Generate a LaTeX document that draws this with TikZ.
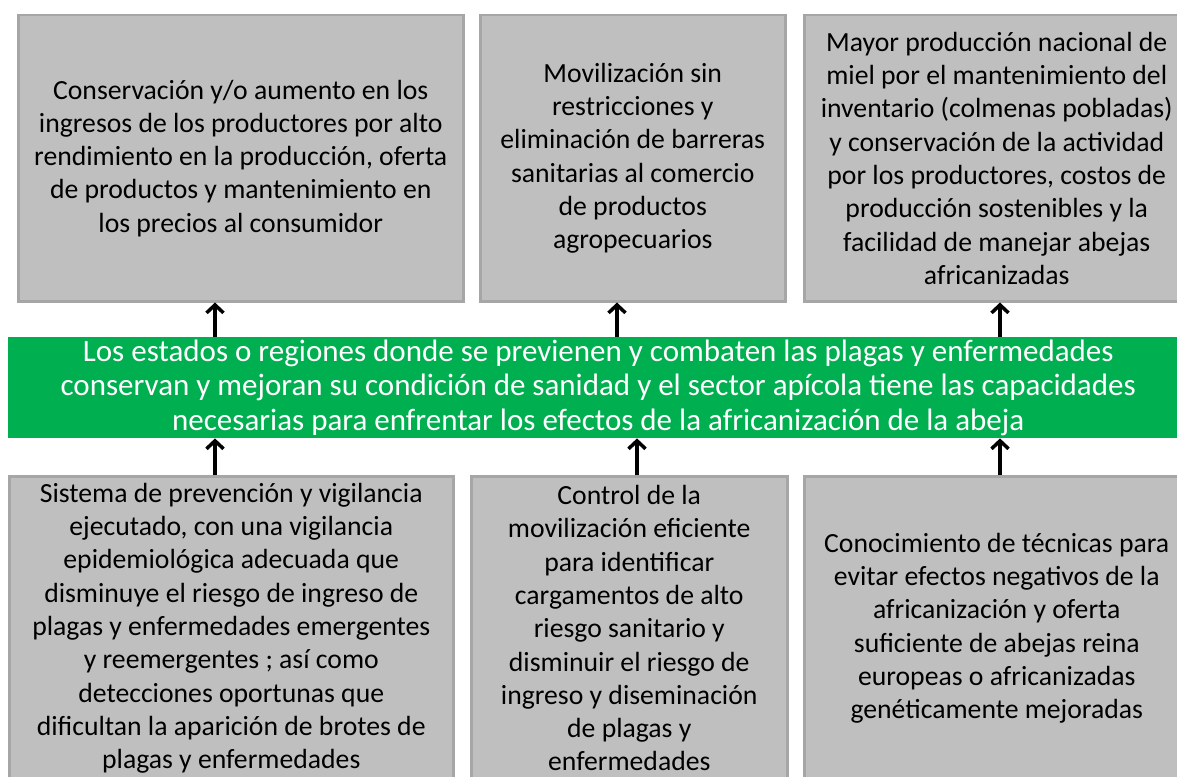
\documentclass[tikz,border=0pt]{standalone}
\usepackage{fontspec}
\setmainfont{Carlito}
\usetikzlibrary{arrows.meta}

\definecolor{boxgray}{RGB}{191,191,191}
\definecolor{boxedge}{RGB}{166,166,166}
\definecolor{barverde}{RGB}{0,176,80}

\def \boxFont {\fontsize{27.7}{33.3}\selectfont}

\begin{document}
\begin{tikzpicture}[x=1pt,y=-1pt,
    caja/.style={draw=boxedge, line width=2.5pt, fill=boxgray, inner sep=0pt,
        anchor=north west, align=center, text=black, font=\boxFont},
    barra/.style={fill=barverde, inner sep=0pt, anchor=north west, align=center,
        text=white, font=\fontsize{31}{34.5}\selectfont},
    flecha/.style={line width=3.5pt, -{Straight Barb[length=8pt,width=17pt,line width=3.5pt]}}]
   \useasboundingbox (0,0) rectangle (1177,776);
   \clip (0,0) rectangle (1177,776);

   % efectos
   \node[caja, minimum width=445pt, minimum height=286pt] (efecto1) at (17,14)
      {Conservación y/o aumento en los\\ingresos de los productores por alto\\rendimiento en la producción, oferta\\de productos y mantenimiento en\\los precios al consumidor};
   \node[caja, minimum width=305pt, minimum height=286pt] (efecto2) at (479,14)
      {Movilización sin\\restricciones y\\eliminación de barreras\\sanitarias al comercio\\de productos\\agropecuarios};
   \node[caja, minimum width=385pt, minimum height=286pt] (efecto3) at (803,14)
      {Mayor producción nacional de\\miel por el mantenimiento del\\inventario (colmenas pobladas)\\y conservación de la actividad\\por los productores, costos de\\producción sostenibles y la\\facilidad de manejar abejas\\africanizadas};

   % objetivo central
   \node[barra, minimum width=1180pt, minimum height=101pt] (objetivo) at (8,337)
      {Los estados o regiones donde se previenen y combaten las plagas y enfermedades\\conservan y mejoran su condición de sanidad y el sector apícola tiene las capacidades\\necesarias para enfrentar los efectos de la africanización de la abeja};

   % medios
   \node[caja, minimum width=444pt, minimum height=304pt] (medio1) at (8,475)
      {Sistema de prevención y vigilancia\\ejecutado, con una vigilancia\\epidemiológica adecuada que\\disminuye el riesgo de ingreso de\\plagas y enfermedades emergentes\\y reemergentes ; así como\\detecciones oportunas que\\dificultan la aparición de brotes de\\plagas y enfermedades};
   \node[caja, minimum width=316pt, minimum height=304pt] (medio2) at (470,475)
      {Control de la\\movilización eficiente\\para identificar\\cargamentos de alto\\riesgo sanitario y\\disminuir el riesgo de\\ingreso y diseminación\\de plagas y\\enfermedades};
   \node[caja, minimum width=385pt, minimum height=304pt] (medio3) at (803,475)
      {Conocimiento de técnicas para\\evitar efectos negativos de la\\africanización y oferta\\suficiente de abejas reina\\europeas o africanizadas\\genéticamente mejoradas};

   % flechas
   \coordinate (sube1) at (215,0);
   \coordinate (sube2) at (617,0);
   \coordinate (sube3) at (1000,0);
   \coordinate (baja2) at (637,0);
   \draw[flecha] (sube1 |- objetivo.north) -- (sube1 |- efecto1.south);
   \draw[flecha] (sube2 |- objetivo.north) -- (sube2 |- efecto2.south);
   \draw[flecha] (sube3 |- objetivo.north) -- (sube3 |- efecto3.south);
   \draw[flecha] (sube1 |- medio1.north) -- (sube1 |- objetivo.south);
   \draw[flecha] (baja2 |- medio2.north) -- (baja2 |- objetivo.south);
   \draw[flecha] (sube3 |- medio3.north) -- (sube3 |- objetivo.south);
\end{tikzpicture}
\end{document}
